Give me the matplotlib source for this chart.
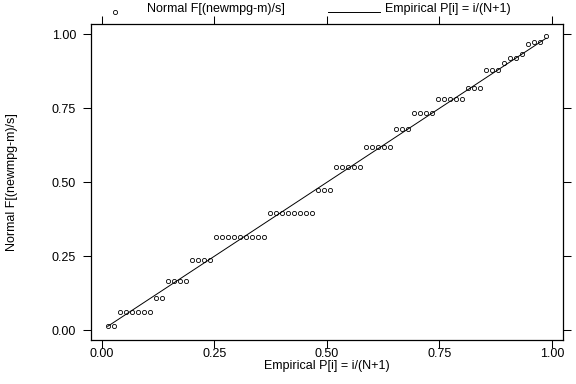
import matplotlib
matplotlib.use("Agg")
import matplotlib.pyplot as plt
from matplotlib.lines import Line2D

plt.rcParams['font.family'] = ['Liberation Sans', 'DejaVu Sans']

n_obs = 74
empirical_p = [i / (n_obs + 1) for i in range(1, n_obs + 1)]
normal_f = [
    0.016, 0.016,
    0.063, 0.063, 0.063, 0.063, 0.063, 0.063,
    0.109, 0.109,
    0.168, 0.168, 0.168, 0.168,
    0.239, 0.239, 0.239, 0.239,
    0.316, 0.316, 0.316, 0.316, 0.316, 0.316, 0.316, 0.316, 0.316,
    0.395, 0.395, 0.395, 0.395, 0.395, 0.395, 0.395, 0.395,
    0.475, 0.475, 0.475,
    0.551, 0.551, 0.551, 0.551, 0.551,
    0.620, 0.620, 0.620, 0.620, 0.620,
    0.681, 0.681, 0.681,
    0.735, 0.735, 0.735, 0.735,
    0.781, 0.781, 0.781, 0.781, 0.781,
    0.820, 0.820, 0.820,
    0.880, 0.880, 0.880,
    0.903,
    0.921, 0.921,
    0.934,
    0.966,
    0.973, 0.973,
    0.994,
]
tick_vals = [0.0, 0.25, 0.5, 0.75, 1.0]
tick_labels = ["0.00", "0.25", "0.50", "0.75", "1.00"]
legend_labels = ["Normal F[(newmpg-m)/s]", "Empirical P[i] = i/(N+1)"]
x_title = "Empirical P[i] = i/(N+1)"
y_title = "Normal F[(newmpg-m)/s]"

W, H = 576, 384
fig = plt.figure(figsize=(W / 100, H / 100), dpi=100)
left, right, top, bottom = 90.7, 563.3, 24.3, 340.0
ax = fig.add_axes([left / W, 1 - bottom / H, (right - left) / W, (bottom - top) / H])

ax.plot(empirical_p, normal_f, linestyle='none', marker='o', markersize=3.0,
        markerfacecolor='white', markeredgecolor='black', markeredgewidth=0.6)
ax.plot(empirical_p, empirical_p, color='black', linewidth=0.7)

ax.set_xlim(-0.0244, 1.0249)
ax.set_ylim(-0.0328, 1.0338)
ax.set_xticks(tick_vals)
ax.set_xticklabels(tick_labels)
ax.set_yticks(tick_vals)
ax.set_yticklabels(tick_labels)
ax.tick_params(axis='both', direction='out', length=5.5, width=0.75, labelsize=9,
               top=True, right=True, labeltop=False, labelright=False)
ax.tick_params(axis='x', pad=0.5)
ax.tick_params(axis='y', pad=5)
for s in ax.spines.values():
    s.set_linewidth(0.9)
    s.set_color('black')

# Axis titles
fig.text(12 / W, 1 - 182 / H, y_title, rotation=90, ha='center', va='center', fontsize=9)
fig.text(327 / W, 1 - 366 / H, x_title, ha='center', va='center', fontsize=9)

# Legend above plot
fig.add_artist(Line2D([115 / W], [1 - 12 / H], marker='o', markersize=3.0, linestyle='none',
                      markerfacecolor='white', markeredgecolor='black', markeredgewidth=0.6,
                      transform=fig.transFigure))
fig.text(147 / W, 1 - 9 / H, legend_labels[0], ha='left', va='center', fontsize=9)
fig.add_artist(Line2D([328 / W, 380 / W], [1 - 12 / H, 1 - 12 / H], color='black',
                      linewidth=0.7, transform=fig.transFigure))
fig.text(385 / W, 1 - 9 / H, legend_labels[1], ha='left', va='center', fontsize=9)

fig.savefig("out.png", dpi=100, facecolor='white')
